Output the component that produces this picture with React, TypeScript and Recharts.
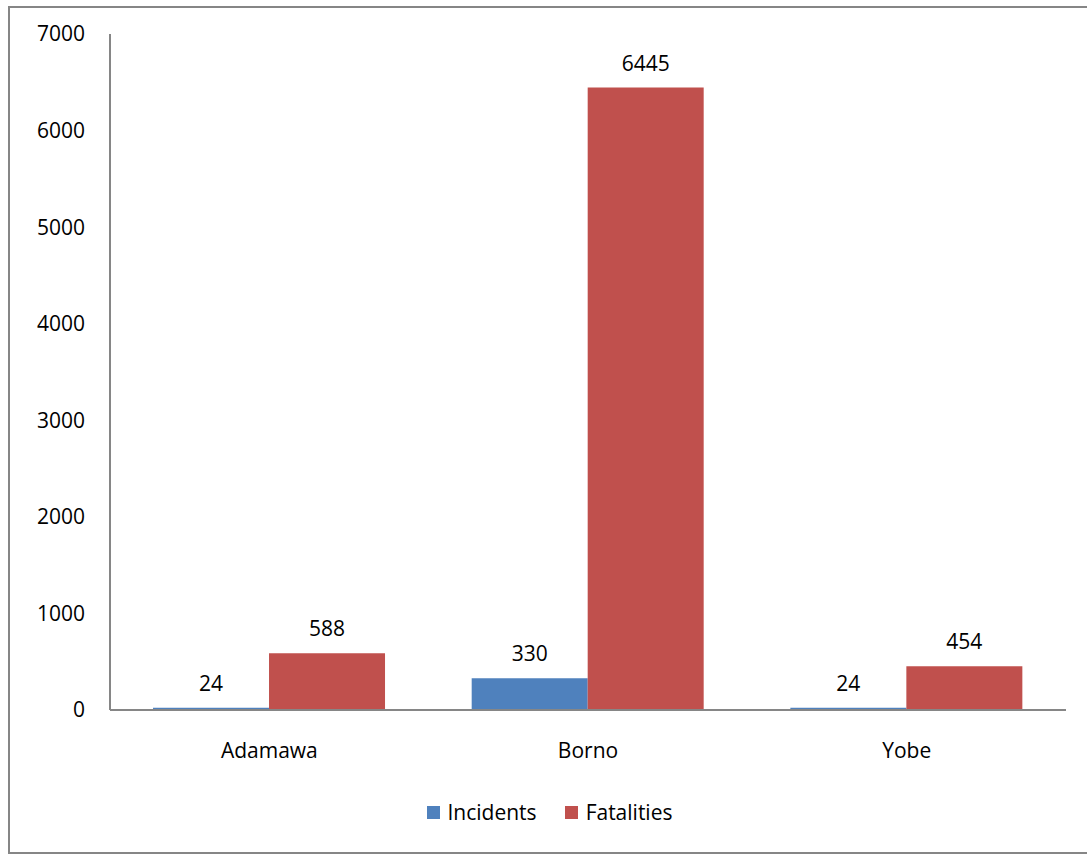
import React from 'react';
import { BarChart, Bar, XAxis, YAxis, Legend, LabelList } from 'recharts';

const states = ['Adamawa', 'Borno', 'Yobe'];
const incidents = [24, 330, 24];
const fatalities = [588, 6445, 454];
const yTicks = [0, 1000, 2000, 3000, 4000, 5000, 6000, 7000];
const seriesOrder = ['Incidents', 'Fatalities'];

const data = states.map((name, i) => ({ name, Incidents: incidents[i], Fatalities: fatalities[i] }));

const FONT = '"Open Sans", "Noto Sans", sans-serif';
const FS = 21;
const AXIS = '#868686';

const renderLegend = (props: any) => {
  const payload = [...props.payload].sort(
    (a: any, b: any) => seriesOrder.indexOf(a.value) - seriesOrder.indexOf(b.value)
  );
  return (
    <div style={{ display: 'flex', justifyContent: 'center', alignItems: 'center', fontFamily: FONT, fontSize: FS, color: '#000' }}>
      {payload.map((entry: any, i: number) => (
        <div key={entry.value} style={{ display: 'flex', alignItems: 'center', marginLeft: i === 0 ? 0 : 28 }}>
          <span style={{ display: 'inline-block', width: 13, height: 13, background: entry.color, marginRight: 8 }} />
          <span>{entry.value}</span>
        </div>
      ))}
    </div>
  );
};

const App: React.FC = () => {
  return (
    <div style={{ position: 'absolute', left: 0, top: 0, width: 1087, height: 854 }}>
      <div
        style={{
          position: 'absolute', left: 8, top: 6, width: 1079, height: 848, boxSizing: 'border-box',
          borderTop: `2px solid ${AXIS}`, borderLeft: `2px solid ${AXIS}`, borderBottom: `2px solid ${AXIS}`,
        }}
      />
      <div style={{ position: 'absolute', left: 0, top: 0 }}>
        <BarChart
          width={1087}
          height={854}
          data={data}
          margin={{ top: 34, right: 21, left: 50, bottom: 114 }}
          barCategoryGap="13.5%"
          barGap={0}
        >
          <XAxis
            dataKey="name"
            axisLine={{ stroke: AXIS, strokeWidth: 2 }}
            tickLine={false}
            tickSize={0}
            tickMargin={33}
            height={30}
            tick={{ fontSize: FS, fill: '#000', fontFamily: FONT }}
          />
          <YAxis
            domain={[0, 7000]}
            ticks={yTicks}
            interval={0}
            width={60}
            axisLine={{ stroke: AXIS, strokeWidth: 2 }}
            tickLine={false}
            tickSize={0}
            tickMargin={25}
            tick={{ fontSize: FS, fill: '#000', fontFamily: FONT }}
          />
          <Legend
            layout="vertical"
            verticalAlign="middle"
            align="center"
            content={renderLegend}
            wrapperStyle={{ top: 798, left: 6, width: 1087, height: 30 }}
          />
          <Bar dataKey="Incidents" fill="#4F81BD" isAnimationActive={false}>
            <LabelList dataKey="Incidents" position="top" offset={17} style={{ fontSize: FS, fill: '#000', fontFamily: FONT }} />
          </Bar>
          <Bar dataKey="Fatalities" fill="#C0504D" isAnimationActive={false}>
            <LabelList dataKey="Fatalities" position="top" offset={17} style={{ fontSize: FS, fill: '#000', fontFamily: FONT }} />
          </Bar>
        </BarChart>
      </div>
    </div>
  );
};

export default App;
